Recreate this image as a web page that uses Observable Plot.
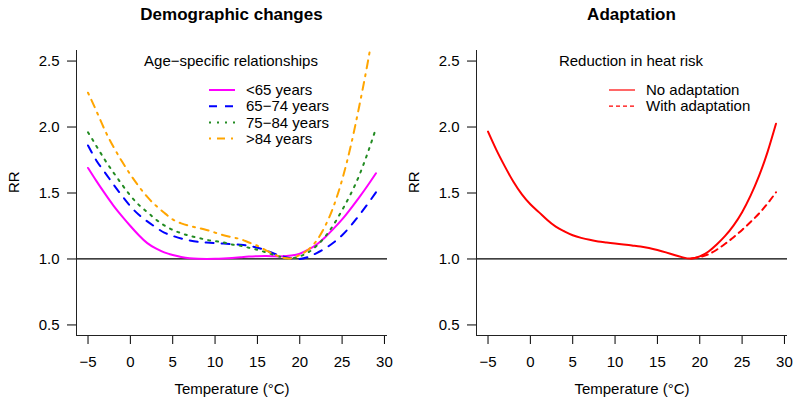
<!DOCTYPE html>
<html><head><meta charset="utf-8">
<script src="https://cdn.jsdelivr.net/npm/d3@7"></script>
<script src="https://cdn.jsdelivr.net/npm/@observablehq/plot@0.6"></script>
<style>
body{margin:0;background:#fff;font-family:"Liberation Sans",Arial,Helvetica,sans-serif;}
#wrap{display:flex;width:800px;height:411px;}
.panel{width:400px;height:411px;}
.title{height:30px;line-height:30px;font-weight:bold;font-size:17px;text-align:center;padding-left:76px;padding-right:13px;box-sizing:border-box;width:400px;}
svg{display:block;}
</style></head>
<body>
<div id="wrap">
  <div class="panel" id="left"><div class="title">Demographic changes</div></div>
  <div class="panel" id="right"><div class="title">Adaptation</div></div>
</div>
<script>
// ---- data ----
const temps = [-5,-4,-3,-2,-1,0,1,2,3,4,5,6,7,8,9,10,11,12,13,14,15,16,17,18,19,20,21,22,23,24,25,26,27,28,29];
const rrUnder65 = [1.69,1.59,1.495,1.405,1.325,1.25,1.18,1.12,1.08,1.05,1.03,1.015,1.005,1.001,1.0,1.001,1.004,1.008,1.013,1.018,1.021,1.022,1.02,1.02,1.027,1.04,1.07,1.11,1.165,1.23,1.30,1.38,1.465,1.555,1.65];
const rr65to74 = [1.86,1.745,1.655,1.565,1.48,1.40,1.335,1.285,1.24,1.20,1.175,1.155,1.14,1.13,1.125,1.12,1.117,1.113,1.108,1.10,1.085,1.065,1.04,1.02,1.005,1.0,1.015,1.045,1.08,1.125,1.18,1.25,1.33,1.415,1.505];
const rr75to84 = [1.96,1.855,1.75,1.655,1.565,1.48,1.41,1.355,1.30,1.255,1.22,1.195,1.175,1.16,1.145,1.135,1.125,1.11,1.10,1.085,1.07,1.05,1.03,1.012,1.005,1.02,1.05,1.10,1.17,1.26,1.37,1.49,1.63,1.80,1.99];
const rrOver84 = [2.26,2.12,1.975,1.85,1.74,1.64,1.55,1.47,1.405,1.35,1.30,1.27,1.25,1.235,1.22,1.20,1.18,1.165,1.15,1.125,1.10,1.065,1.035,1.01,1.005,1.03,1.07,1.14,1.25,1.40,1.60,1.85,2.15,2.48,2.85];
const rrNoAdapt = [1.965,1.825,1.70,1.585,1.49,1.415,1.355,1.295,1.245,1.21,1.18,1.16,1.145,1.133,1.125,1.117,1.11,1.102,1.094,1.083,1.068,1.05,1.03,1.012,1.003,1.02,1.055,1.11,1.175,1.255,1.355,1.48,1.63,1.81,2.025];
const tempsAdapt = [19,20,21,22,23,24,25,26,27,28,29];
const rrWithAdapt = [1.003,1.015,1.035,1.07,1.115,1.165,1.22,1.28,1.345,1.42,1.505];

const ageLabels = ["<65 years","65\u221274 years","75\u221284 years",">84 years"];
const ageColors = ["#FF00FF","#0000FF","#228B22","#FFA500"];
const ageDashes = [null,"8,8","2,6","2,6,8,6"];
const adaptLabels = ["No adaptation","With adaptation"];
const adaptDashes = [null,"6,5"];
const adaptLegendDashes = [null,"4,3"];
const adaptColor = "#FF0000";

const xTicks = [-5,0,5,10,15,20,25,30];
const yTicks = [0.5,1.0,1.5,2.0,2.5];
const xLim = [-6.36, 30.36];
const yLim = [0.42, 2.58];

const FONT = '"Liberation Sans", Arial, Helvetica, sans-serif';
const FS = 15;
const fmtX = d => d < 0 ? "\u2212" + Math.abs(d) : String(d);

function series(xs, ys){ return xs.map((t,i)=>({t, rr: ys[i]})); }

function makePanel(lines){
  return Plot.plot({
    width: 400, height: 381,
    marginLeft: 76, marginRight: 13, marginTop: 20, marginBottom: 76,
    style: {fontFamily: FONT, fontSize: FS + "px", background: "white", color: "black", overflow: "visible"},
    x: {domain: xLim, ticks: xTicks, tickSize: 9, tickPadding: 12, tickFormat: fmtX, label: null},
    y: {domain: yLim, ticks: yTicks, tickSize: 9, tickPadding: 8, tickFormat: d3.format(".1f"), label: null},
    marks: [
      Plot.ruleY([1], {stroke: "black", strokeWidth: 1.2}),
      ...lines.map(l => Plot.line(series(l.xs, l.ys), {
        x: "t", y: "rr", stroke: l.color, strokeWidth: 2,
        strokeDasharray: l.dash || undefined, curve: "natural", clip: true
      })),
      Plot.ruleX([xLim[0]], {stroke: "#222", strokeWidth: 1}),
      Plot.ruleY([yLim[0]], {stroke: "#222", strokeWidth: 1}),
      Plot.text(["RR"], {text: d => d, frameAnchor: "left", dx: -62, rotate: -90, fontSize: FS}),
      Plot.text(["Temperature (\u00B0C)"], {text: d => d, frameAnchor: "bottom", dy: 58, fontSize: FS})
    ]
  });
}

function addLegend(svgEl, title, labels, colors, dashes, lw){
  const svg = d3.select(svgEl);
  const g = svg.append("g").attr("font-family", FONT).attr("font-size", FS + "px").attr("fill", "black");
  g.append("text").attr("x", 231).attr("y", 31).attr("dy", "0.35em").attr("text-anchor", "middle").text(title);
  labels.forEach((lab, i) => {
    const y = 60 + 16.2 * i;
    const ln = g.append("line").attr("x1", 209).attr("x2", 235).attr("y1", y).attr("y2", y)
      .attr("stroke", colors[i]).attr("stroke-width", lw);
    if (dashes[i]) ln.attr("stroke-dasharray", dashes[i]);
    g.append("text").attr("x", 246).attr("y", y).attr("dy", "0.35em").attr("text-anchor", "start").text(lab);
  });
}

const leftLines = [
  {xs: temps, ys: rrUnder65, color: ageColors[0], dash: ageDashes[0]},
  {xs: temps, ys: rr65to74, color: ageColors[1], dash: ageDashes[1]},
  {xs: temps, ys: rr75to84, color: ageColors[2], dash: ageDashes[2]},
  {xs: temps, ys: rrOver84, color: ageColors[3], dash: ageDashes[3]}
];
const rightLines = [
  {xs: temps, ys: rrNoAdapt, color: adaptColor, dash: adaptDashes[0]},
  {xs: tempsAdapt, ys: rrWithAdapt, color: adaptColor, dash: adaptDashes[1]}
];

const leftSvg = makePanel(leftLines);
addLegend(leftSvg, "Age\u2212specific relationships", ageLabels, ageColors, ageDashes, 2);
document.getElementById("left").appendChild(leftSvg);

const rightSvg = makePanel(rightLines);
addLegend(rightSvg, "Reduction in heat risk", adaptLabels, [adaptColor, adaptColor], adaptLegendDashes, 1.2);
document.getElementById("right").appendChild(rightSvg);
</script>
</body></html>
